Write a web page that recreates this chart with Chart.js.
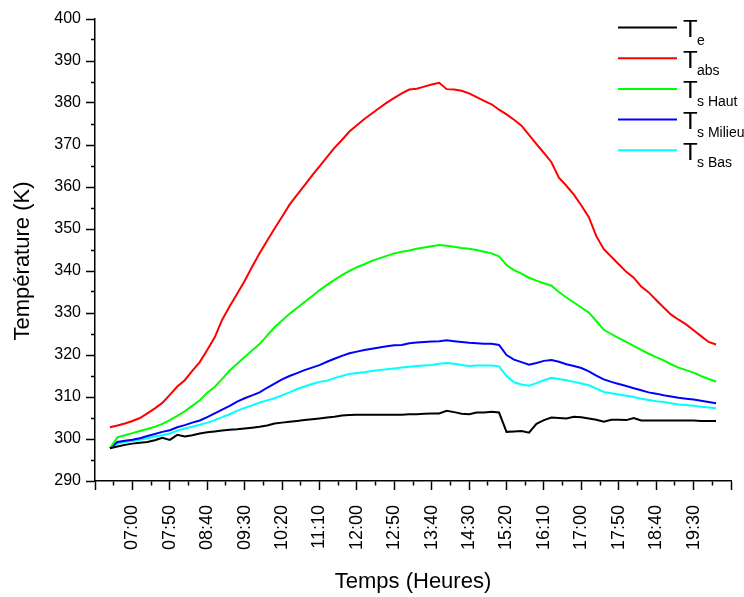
<!DOCTYPE html>
<html>
<head>
<meta charset="utf-8">
<title>Température</title>
<script src="https://cdn.jsdelivr.net/npm/chart.js@4/dist/chart.umd.min.js"></script>
<style>
  html, body { margin: 0; padding: 0; background: #ffffff; }
  #wrap { width: 744px; height: 597px; }
</style>
</head>
<body>
<div id="wrap"><canvas id="chart" width="744" height="597"></canvas></div>
<script>
// Measurement times (every 10 minutes)
const times = [
  '06:30','06:40','06:50','07:00','07:10','07:20','07:30','07:40','07:50','08:00',
  '08:10','08:20','08:30','08:40','08:50','09:00','09:10','09:20','09:30','09:40',
  '09:50','10:00','10:10','10:20','10:30','10:40','10:50','11:00','11:10','11:20',
  '11:30','11:40','11:50','12:00','12:10','12:20','12:30','12:40','12:50','13:00',
  '13:10','13:20','13:30','13:40','13:50','14:00','14:10','14:20','14:30','14:40',
  '14:50','15:00','15:10','15:20','15:30','15:40','15:50','16:00','16:10','16:20',
  '16:30','16:40','16:50','17:00','17:10','17:20','17:30','17:40','17:50','18:00',
  '18:10','18:20','18:30','18:40','18:50','19:00','19:10','19:20','19:30','19:40',
  '19:50','20:00'
];

// Labelled ticks on the time axis
const tickLabels = ['07:00','07:50','08:40','09:30','10:20','11:10','12:00','12:50',
  '13:40','14:30','15:20','16:10','17:00','17:50','18:40','19:30'];

// Ambient temperature Te (K)
const tE = [
  297.8,298.2,298.6,298.9,299.1,299.3,299.7,300.3,299.8,301.0,
  300.6,300.9,301.3,301.6,301.8,302.0,302.2,302.3,302.5,302.7,
  302.9,303.2,303.7,303.9,304.1,304.3,304.5,304.7,304.9,305.1,
  305.3,305.6,305.7,305.8,305.8,305.8,305.8,305.8,305.8,305.8,
  305.9,305.9,306.0,306.1,306.1,306.7,306.4,306.0,305.9,306.3,
  306.3,306.5,306.3,301.7,301.8,301.9,301.5,303.6,304.5,305.1,
  305.0,304.9,305.3,305.2,304.9,304.6,304.1,304.6,304.6,304.5,
  305.0,304.4,304.4,304.4,304.4,304.4,304.4,304.4,304.4,304.3,
  304.3,304.3
];

// Absorber temperature Tabs (K)
const tAbs = [
  302.8,303.2,303.7,304.3,305.0,306.1,307.3,308.6,310.5,312.5,
  314.0,316.2,318.3,321.2,324.2,328.4,331.6,334.6,337.6,341.0,
  344.2,347.2,350.1,352.9,355.8,358.1,360.4,362.7,364.9,367.1,
  369.3,371.2,373.2,374.7,376.2,377.5,378.8,380.1,381.2,382.3,
  383.2,383.4,383.9,384.4,384.8,383.3,383.2,382.9,382.3,381.4,
  380.5,379.7,378.4,377.3,376.0,374.6,372.4,370.2,368.1,365.9,
  362.2,360.3,358.2,355.6,352.8,348.3,345.2,343.4,341.6,339.8,
  338.4,336.3,334.9,333.1,331.3,329.6,328.4,327.3,325.9,324.5,
  323.1,322.5
];

// Storage temperature, top layer (K)
const tSHaut = [
  297.8,300.4,300.9,301.4,301.9,302.4,302.9,303.6,304.5,305.5,
  306.6,307.9,309.2,311.0,312.4,314.3,316.3,317.9,319.5,321.1,
  322.6,324.6,326.6,328.2,329.8,331.2,332.6,334.0,335.4,336.7,
  337.9,339.0,340.0,340.9,341.6,342.4,343.0,343.6,344.2,344.6,
  344.9,345.3,345.6,345.9,346.2,346.0,345.8,345.5,345.3,345.0,
  344.6,344.2,343.5,341.4,340.2,339.4,338.4,337.7,337.1,336.5,
  335.0,333.7,332.5,331.3,330.1,328.1,326.0,325.0,324.0,323.1,
  322.2,321.2,320.3,319.5,318.7,317.8,317.0,316.4,315.8,315.0,
  314.3,313.7
];

// Storage temperature, middle layer (K)
const tSMilieu = [
  297.8,299.3,299.6,299.8,300.2,300.7,301.2,301.7,302.1,302.8,
  303.3,303.9,304.4,305.2,306.1,307.0,307.9,308.9,309.7,310.4,
  311.1,312.2,313.2,314.2,315.0,315.7,316.4,317.0,317.6,318.4,
  319.1,319.8,320.4,320.8,321.2,321.5,321.8,322.1,322.3,322.4,
  322.8,323.0,323.1,323.2,323.3,323.5,323.3,323.1,322.9,322.8,
  322.7,322.7,322.4,320.0,318.9,318.3,317.7,318.1,318.6,318.8,
  318.4,317.8,317.4,316.9,316.1,315.1,314.2,313.6,313.1,312.6,
  312.1,311.6,311.1,310.8,310.4,310.1,309.8,309.6,309.4,309.1,
  308.8,308.5
];

// Storage temperature, bottom layer (K)
const tSBas = [
  297.8,298.9,299.3,299.5,299.8,300.2,300.6,300.9,301.3,302.0,
  302.5,302.9,303.4,303.9,304.5,305.2,305.9,306.7,307.4,308.0,
  308.7,309.2,309.7,310.4,311.1,311.9,312.5,313.1,313.6,313.9,
  314.5,315.0,315.5,315.7,315.9,316.2,316.4,316.6,316.8,317.0,
  317.2,317.4,317.5,317.6,317.9,318.1,317.9,317.6,317.4,317.5,
  317.5,317.5,317.3,315.0,313.5,313.0,312.7,313.3,314.0,314.6,
  314.3,314.0,313.6,313.2,312.8,312.0,311.2,310.9,310.6,310.3,
  310.0,309.6,309.3,309.0,308.8,308.5,308.2,308.1,307.9,307.7,
  307.5,307.3
];

const seriesValues = [tE, tAbs, tSHaut, tSMilieu, tSBas];
const seriesSubscripts = ['e', 'abs', 's Haut', 's Milieu', 's Bas'];
const seriesColors = ['#000000', '#ff0000', '#00ff00', '#0000ff', '#00ffff'];

const FONT = '"Liberation Sans", Arial, Helvetica, sans-serif';

function toMinutes(hhmm) {
  const [h, m] = hhmm.split(':').map(Number);
  return h * 60 + m;
}

const tickLabelMap = new Map(tickLabels.map(l => [toMinutes(l), l]));
const X_MIN = toMinutes('06:10');
const X_MAX = toMinutes('20:20');

const datasets = seriesValues.map((vals, s) => ({
  label: 'T' + seriesSubscripts[s],
  data: times.map((t, i) => ({ x: toMinutes(t), y: vals[i] })),
  borderColor: seriesColors[s],
  backgroundColor: seriesColors[s],
  borderWidth: 2,
  pointRadius: 0,
  tension: 0,
  fill: false
}));

// Legend with subscripted labels (T + subscript)
const subscriptLegend = {
  id: 'subscriptLegend',
  afterDraw(chart) {
    const ctx = chart.ctx;
    const area = chart.chartArea;
    const x0 = area.right - 113;
    const x1 = area.right - 54;
    ctx.save();
    chart.data.datasets.forEach((ds, i) => {
      const y = area.top + 8.5 + i * 30.7;
      ctx.beginPath();
      ctx.strokeStyle = ds.borderColor;
      ctx.lineWidth = 2;
      ctx.moveTo(x0, y);
      ctx.lineTo(x1, y);
      ctx.stroke();
      ctx.fillStyle = '#000000';
      ctx.textAlign = 'left';
      ctx.textBaseline = 'alphabetic';
      ctx.font = '24px ' + FONT;
      ctx.fillText('T', x1 + 6, y + 9.4);
      ctx.font = '14px ' + FONT;
      ctx.fillText(seriesSubscripts[i], x1 + 20, y + 17);
    });
    ctx.restore();
  }
};

new Chart(document.getElementById('chart'), {
  type: 'line',
  data: { datasets },
  options: {
    responsive: false,
    animation: false,
    events: [],
    layout: { padding: { top: 19, right: 13, left: 0, bottom: 0 } },
    plugins: {
      legend: { display: false },
      tooltip: { enabled: false }
    },
    scales: {
      x: {
        type: 'linear',
        min: X_MIN,
        max: X_MAX,
        afterBuildTicks(scale) {
          const ticks = [];
          for (let v = X_MIN; v <= X_MAX; v += 25) ticks.push({ value: v });
          scale.ticks = ticks;
        },
        afterFit(scale) {
          scale.height = 116;
          scale.paddingLeft = 0;
          scale.paddingRight = 0;
        },
        border: { display: true, color: '#000000', width: 1.5 },
        grid: {
          drawOnChartArea: false,
          drawTicks: true,
          tickLength: 9,
          tickColor: '#000000',
          tickWidth: 1.5,
          tickBorderDash: (c) => ((c.tick.value - X_MIN) % 50 === 0 ? [] : [4, 100])
        },
        ticks: {
          autoSkip: false,
          minRotation: 90,
          maxRotation: 90,
          padding: 15,
          color: '#000000',
          font: { family: FONT, size: 18 },
          callback: (v) => tickLabelMap.get(v) || ''
        },
        title: {
          display: true,
          text: 'Temps (Heures)',
          color: '#000000',
          font: { family: FONT, size: 22 },
          padding: { top: 0, bottom: 2 }
        }
      },
      y: {
        type: 'linear',
        min: 290,
        max: 400,
        afterFit(scale) { scale.width = 95; },
        border: { display: true, color: '#000000', width: 1.5 },
        grid: {
          drawOnChartArea: false,
          drawTicks: true,
          tickLength: 9,
          tickColor: '#000000',
          tickWidth: 1.5,
          tickBorderDash: (c) => (c.tick.value % 10 === 0 ? [] : [0, 5, 4, 100])
        },
        ticks: {
          stepSize: 5,
          autoSkip: false,
          padding: 5,
          color: '#000000',
          font: { family: FONT, size: 16 },
          callback: (v) => (v % 10 === 0 ? String(v) : '')
        },
        title: {
          display: true,
          // en spaces at the end keep the title slightly below the axis centre
          text: 'Température (K)\u2002\u2002',
          color: '#000000',
          font: { family: FONT, size: 22 },
          padding: { top: 10, bottom: 0 }
        }
      }
    }
  },
  plugins: [subscriptLegend]
});
</script>
</body>
</html>
